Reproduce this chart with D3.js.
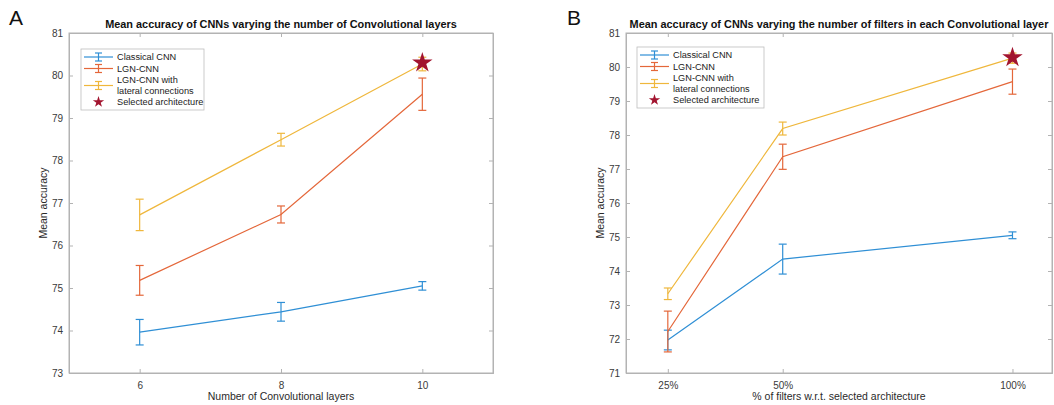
<!DOCTYPE html>
<html>
<head>
<meta charset="utf-8">
<script src="https://cdn.jsdelivr.net/npm/d3@7"></script>
<style>
  body { margin: 0; background: #fff; }
  svg { font-family: "Liberation Sans", Arial, sans-serif; }
  .tick text { fill: #3a3a3a; font-size: 10px; }
</style>
</head>
<body>
<div id="chart"></div>
<script>
// Mean accuracy of CNNs - two panels with error bars

const seriesNames = ['Classical CNN', 'LGN-CNN', 'LGN-CNN with\nlateral connections'];
const seriesColors = ['#2f8fd5', '#e4673a', '#efb73c'];
const starColor = '#a2142f';

// Panel A: number of convolutional layers
const layersX = [6, 8, 10];
const layersTicks = [6, 8, 10];
const layersYTicks = [73, 74, 75, 76, 77, 78, 79, 80, 81];
const layersMean = [
    [73.96, 74.44, 75.05],
    [75.18, 76.73, 79.56],
    [76.72, 78.49, 80.27]
];
const layersErr = [
    [0.30, 0.22, 0.10],
    [0.35, 0.20, 0.38],
    [0.37, 0.15, 0.16]
];
const layersStar = [10, 80.3];

// Panel B: % of filters
const filtersX = [25, 50, 100];
const filtersTicks = [25, 50, 100];
const filtersYTicks = [71, 72, 73, 74, 75, 76, 77, 78, 79, 80, 81];
const filtersMean = [
    [71.97, 74.35, 75.05],
    [72.22, 77.36, 79.57],
    [73.33, 78.19, 80.26]
];
const filtersErr = [
    [0.29, 0.44, 0.10],
    [0.60, 0.37, 0.37],
    [0.17, 0.19, 0.15]
];
const filtersStar = [100, 80.28];

const svg = d3.select('#chart').append('svg')
    .attr('width', 1054)
    .attr('height', 405);

const axisColor = '#b3b3b3';

function drawPanel(opts) {
    const { left, right, top, bottom, xDomain, yDomain, xVals, xTicks, yTicks,
            means, errs, star, title, xLabel, xFormat, legend, letter } = opts;

    const x = d3.scaleLinear().domain(xDomain).range([left, right]);
    const y = d3.scaleLinear().domain(yDomain).range([bottom, top]);
    const g = svg.append('g');

    // panel letter
    g.append('text')
        .attr('x', letter.x).attr('y', letter.y)
        .style('font-size', '21px')
        .style('fill', '#111')
        .text(letter.text);

    // title
    g.append('text')
        .attr('x', (left + right) / 2).attr('y', 28)
        .attr('text-anchor', 'middle')
        .style('font-size', '10.9px')
        .style('font-weight', 'bold')
        .style('fill', '#111')
        .text(title);

    // box
    g.append('rect')
        .attr('x', left).attr('y', top)
        .attr('width', right - left).attr('height', bottom - top)
        .attr('fill', 'none')
        .attr('stroke', axisColor)
        .attr('stroke-width', 1);

    // axes (ticks inward, matlab style)
    const xAxis = g.append('g')
        .attr('transform', `translate(0,${bottom})`)
        .call(d3.axisBottom(x).tickValues(xTicks).tickSize(-4).tickPadding(9).tickFormat(xFormat));
    const yAxis = g.append('g')
        .attr('transform', `translate(${left},0)`)
        .call(d3.axisLeft(y).tickValues(yTicks).tickSize(-4).tickPadding(6).tickFormat(d3.format('d')));
    const xTop = g.append('g')
        .attr('transform', `translate(0,${top})`)
        .call(d3.axisTop(x).tickValues(xTicks).tickSize(-4).tickFormat(''));
    const yRight = g.append('g')
        .attr('transform', `translate(${right},0)`)
        .call(d3.axisRight(y).tickValues(yTicks).tickSize(-4).tickFormat(''));
    [xAxis, yAxis, xTop, yRight].forEach(a => {
        a.select('.domain').attr('stroke', axisColor);
        a.selectAll('.tick line').attr('stroke', axisColor);
    });

    // axis labels
    g.append('text')
        .attr('x', (left + right) / 2).attr('y', bottom + 27)
        .attr('text-anchor', 'middle')
        .style('font-size', '10.5px')
        .style('fill', '#2a2a2a')
        .text(xLabel);
    g.append('text')
        .attr('transform', `translate(${left - 22},${(top + bottom) / 2}) rotate(-90)`)
        .attr('text-anchor', 'middle')
        .style('font-size', '10.5px')
        .style('fill', '#2a2a2a')
        .text('Mean accuracy');

    const line = d3.line().x(d => x(d[0])).y(d => y(d[1]));

    // series: lines + error bars
    means.forEach((m, i) => {
        const pts = xVals.map((xv, j) => [xv, m[j], errs[i][j]]);
        const color = seriesColors[i];
        g.append('path')
            .datum(pts)
            .attr('d', line)
            .attr('fill', 'none')
            .attr('stroke', color)
            .attr('stroke-width', 1.2);
        const eb = g.append('g').selectAll('g').data(pts).join('g')
            .attr('stroke', color).attr('stroke-width', 1.2);
        eb.append('line')
            .attr('x1', d => x(d[0])).attr('x2', d => x(d[0]))
            .attr('y1', d => y(d[1] - d[2])).attr('y2', d => y(d[1] + d[2]));
        eb.append('line')
            .attr('x1', d => x(d[0]) - 4).attr('x2', d => x(d[0]) + 4)
            .attr('y1', d => y(d[1] + d[2])).attr('y2', d => y(d[1] + d[2]));
        eb.append('line')
            .attr('x1', d => x(d[0]) - 4).attr('x2', d => x(d[0]) + 4)
            .attr('y1', d => y(d[1] - d[2])).attr('y2', d => y(d[1] - d[2]));
    });

    // selected architecture star
    g.append('path')
        .attr('d', d3.symbol().type(d3.symbolStar).size(130)())
        .attr('transform', `translate(${x(star[0])},${y(star[1])})`)
        .attr('fill', starColor);

    // legend
    const lg = g.append('g').attr('transform', `translate(${legend.x},${legend.y})`);
    lg.append('rect')
        .attr('width', legend.w).attr('height', 61)
        .attr('fill', '#fff')
        .attr('stroke', '#bdbdbd')
        .attr('stroke-width', 0.8);
    const rowY = [8, 19.5, 36.5];
    seriesNames.forEach((name, i) => {
        const cy = rowY[i];
        const row = lg.append('g').attr('stroke', seriesColors[i]).attr('stroke-width', 1.2);
        row.append('line').attr('x1', 3).attr('x2', 32).attr('y1', cy).attr('y2', cy);
        row.append('line').attr('x1', 17.5).attr('x2', 17.5).attr('y1', cy - 4).attr('y2', cy + 4);
        row.append('line').attr('x1', 14).attr('x2', 21).attr('y1', cy - 4).attr('y2', cy - 4);
        row.append('line').attr('x1', 14).attr('x2', 21).attr('y1', cy + 4).attr('y2', cy + 4);
        const lines = name.split('\n');
        lines.forEach((t, k) => {
            lg.append('text')
                .attr('x', 36)
                .attr('y', cy + 3.2 + (k - (lines.length - 1) / 2) * 11)
                .style('font-size', '9.2px')
                .style('fill', '#222')
                .text(t);
        });
    });
    lg.append('path')
        .attr('d', d3.symbol().type(d3.symbolStar).size(40)())
        .attr('transform', 'translate(17.5,53)')
        .attr('fill', starColor);
    lg.append('text')
        .attr('x', 36).attr('y', 56.2)
        .style('font-size', '9.2px')
        .style('fill', '#222')
        .text('Selected architecture');
}

drawPanel({
    left: 69, right: 493, top: 33, bottom: 373,
    xDomain: [5, 11], yDomain: [73, 81],
    xVals: layersX, xTicks: layersTicks, yTicks: layersYTicks,
    means: layersMean, errs: layersErr, star: layersStar,
    title: 'Mean accuracy of CNNs varying the number of Convolutional layers',
    xLabel: 'Number of Convolutional layers',
    xFormat: d3.format('d'),
    legend: { x: 81, y: 49, w: 123 },
    letter: { text: 'A', x: 9, y: 25 }
});

drawPanel({
    left: 626, right: 1052, top: 33, bottom: 373,
    xDomain: [15.9, 108.6], yDomain: [71, 81],
    xVals: filtersX, xTicks: filtersTicks, yTicks: filtersYTicks,
    means: filtersMean, errs: filtersErr, star: filtersStar,
    title: 'Mean accuracy of CNNs varying the number of filters in each Convolutional layer',
    xLabel: '% of filters w.r.t. selected architecture',
    xFormat: d => d + '%',
    legend: { x: 637, y: 47, w: 127 },
    letter: { text: 'B', x: 567, y: 25 }
});
</script>
</body>
</html>
